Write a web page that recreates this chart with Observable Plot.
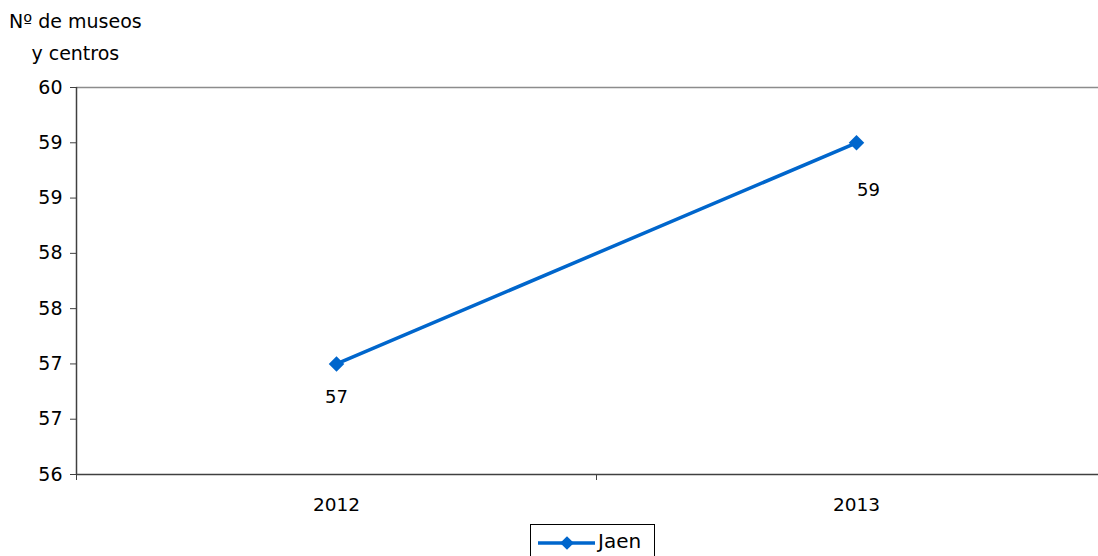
<!DOCTYPE html>
<html>
<head>
<meta charset="utf-8">
<script src="https://cdn.jsdelivr.net/npm/d3@7"></script>
<script src="https://cdn.jsdelivr.net/npm/@observablehq/plot@0.6"></script>
<style>
  html, body { margin: 0; padding: 0; background: #fff; overflow: hidden; }
  body { width: 1098px; height: 556px; position: relative; font-family: "DejaVu Sans", sans-serif; }
  #ytitle { position: absolute; left: 9px; top: 5px; font-size: 19px; line-height: 32px; color: #000; text-align: center; }
  #legend { position: absolute; left: 530px; top: 524px; width: 125px; height: 40px; border: 1px solid #000; box-sizing: border-box; background: #fff; }
  #legend span { position: absolute; left: 67px; top: 4px; font-size: 20px; color: #000; }
  #legend svg { position: absolute; left: 5px; top: 8px; }
  #chart svg .ytick text { font-size: 19px; }
</style>
</head>
<body>
<div id="chart"></div>
<div id="ytitle">Nº de museos<br>y centros</div>
<div id="legend"></div>
<script>
const years = [2012, 2013];
const jaen = [57, 59];
const seriesName = "Jaen";
const yTicks = [56, 56.5, 57, 57.5, 58, 58.5, 59, 59.5];
const yTickLabels = ["56", "57", "57", "58", "58", "59", "59", "60"];
const xBoundaries = [2011.5, 2012.5, 2013.5];

const color = "#0066CC";
const data = years.map((y, i) => ({year: y, value: jaen[i]}));

const chart = Plot.plot({
  width: 1098,
  height: 525,
  marginTop: 87,
  marginBottom: 51,
  marginLeft: 76,
  marginRight: 0,
  style: {fontFamily: "DejaVu Sans, sans-serif", fontSize: "19px", color: "#000", overflow: "hidden"},
  x: {type: "linear", domain: [2011.5, 2013.5], range: [76, 1116]},
  y: {domain: [56, 59.5]},
  marks: [
    Plot.ruleY([59.5], {stroke: "#8c8c8c", strokeWidth: 1.5}),
    Plot.axisY({ticks: yTicks, tickFormat: (d, i) => yTickLabels[i], tickSize: 6, tickPadding: 8, label: null, stroke: "#404040", strokeOpacity: 1, fontSize: 19}),
    Plot.axisX({ticks: xBoundaries, tickFormat: () => "", tickSize: 6, label: null, stroke: "#404040", strokeOpacity: 1}),
    Plot.axisX({ticks: years, tickFormat: d => String(d), tickSize: 0, tickPadding: 23, label: null, fontSize: 18.5}),
    Plot.ruleX([2011.5], {stroke: "#404040", strokeWidth: 1.5}),
    Plot.ruleY([56], {stroke: "#404040", strokeWidth: 1.5}),
    Plot.line(data, {x: "year", y: "value", stroke: color, strokeWidth: 3.5}),
    Plot.dot(data, {x: "year", y: "value", symbol: "diamond2", r: 7, fill: color, stroke: null}),
    Plot.text(data.slice(0, 1), {x: "year", y: "value", text: d => String(d.value), dy: 33, fontSize: 18, fill: "#000"}),
    Plot.text(data.slice(1), {x: "year", y: "value", text: d => String(d.value), dy: 47, dx: 12, fontSize: 18, fill: "#000"})
  ]
});
document.getElementById("chart").appendChild(chart);

// legend
const lg = d3.select("#legend");
const ls = lg.append("svg").attr("width", 64).attr("height", 20);
ls.append("line").attr("x1", 2).attr("x2", 59).attr("y1", 10).attr("y2", 10).attr("stroke", color).attr("stroke-width", 3.5);
ls.append("path").attr("d", d3.symbol(d3.symbolDiamond2, 120)()).attr("transform", "translate(31,10)").attr("fill", color);
lg.append("span").text(seriesName);
</script>
</body>
</html>
